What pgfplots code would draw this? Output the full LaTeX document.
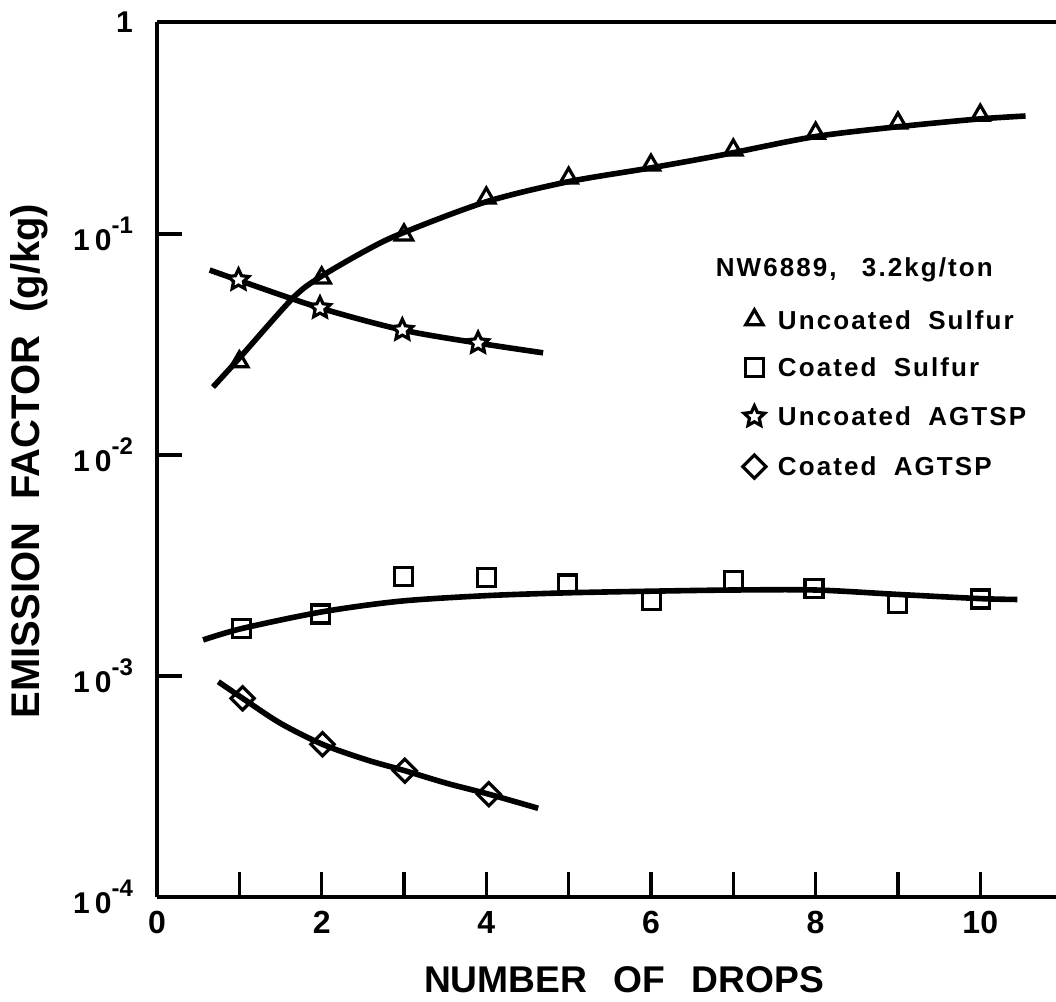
\documentclass[border=0pt]{standalone}
\usepackage{fontspec}
\setmainfont{Liberation Sans}
\newfontfamily\legfont[LetterSpace=8]{Liberation Sans}
\usepackage{pgfplots}
\pgfplotsset{compat=1.18}
\newcommand\sups[1]{\raisebox{0.55em}{\fontsize{6}{7}\selectfont #1}}
\pgfdeclareplotmark{ostar}{%
  \pgfpathmoveto{\pgfqpointpolar{90}{\pgfplotmarksize}}%
  \pgfpathlineto{\pgfqpointpolar{126}{0.48\pgfplotmarksize}}%
  \pgfpathlineto{\pgfqpointpolar{162}{\pgfplotmarksize}}%
  \pgfpathlineto{\pgfqpointpolar{198}{0.48\pgfplotmarksize}}%
  \pgfpathlineto{\pgfqpointpolar{234}{\pgfplotmarksize}}%
  \pgfpathlineto{\pgfqpointpolar{270}{0.48\pgfplotmarksize}}%
  \pgfpathlineto{\pgfqpointpolar{306}{\pgfplotmarksize}}%
  \pgfpathlineto{\pgfqpointpolar{342}{0.48\pgfplotmarksize}}%
  \pgfpathlineto{\pgfqpointpolar{18}{\pgfplotmarksize}}%
  \pgfpathlineto{\pgfqpointpolar{54}{0.48\pgfplotmarksize}}%
  \pgfpathclose
  \pgfusepathqfillstroke}
\begin{document}
\begin{tikzpicture}
\useasboundingbox (-39.25pt,-26.25pt) rectangle (224.75pt,224.25pt);
\begin{axis}[
  at={(0,0)}, anchor=south west,
  scale only axis, width=224.75pt, height=218.75pt,
  xmin=0, xmax=10.92, ymode=log, ymin=1e-4, ymax=0.9106,
  axis x line=box, axis y line=left,
  axis line style={-, line width=0.9pt},
  xtick pos=left, ytick pos=left,
  tick align=inside,
  xtick={0,1,...,10}, xticklabels={0,,2,,4,,6,,8,,10},
  ytick={1e-4,1e-3,1e-2,1e-1,0.9106},
  yticklabels={{1\,0\sups{-4}},{1\,0\sups{-3}},{1\,0\sups{-2}},{1\,0\sups{-1}},{1}},
  yminorticks=false, xminorticks=false,
  major tick length=6.25pt,
  tick style={line width=0.8pt, black},
  xticklabel style={font=\bfseries\fontsize{8}{9}\selectfont},
  yticklabel style={font=\bfseries\fontsize{7.5}{8}\selectfont, xshift=-2.5pt},
  xlabel={NUMBER\hspace{4pt} OF\hspace{4pt} DROPS},
  xlabel style={at={(axis description cs:0.5195,-0.0949)}, anchor=center, font=\bfseries\fontsize{9.3}{11}\selectfont},
  ylabel={EMISSION\hspace{3pt} FACTOR\hspace{3pt} (g/kg)},
  ylabel style={at={(axis description cs:-0.1424,0.4983)}, anchor=center, font=\bfseries\fontsize{10}{12}\selectfont},
  clip=false,
  legend image code/.code={\draw[#1] plot coordinates {(0pt,0pt)};},
  legend style={at={(rel axis cs:0.6507,0.672)}, anchor=north west, draw=none, fill=none,
    inner sep=0pt, row sep=7.3pt, column sep=3pt,
    font=\legfont\bfseries\fontsize{6.5}{7}\selectfont,
    nodes={inner sep=0pt, text height=4.6pt, text depth=0pt}},
  legend cell align=left,
]
% curves
\addplot[forget plot, line width=1.4pt, smooth] coordinates {
 (0.68,0.0203) (1.01,0.0277) (1.65,0.0513) (1.98,0.0638) (2.55,0.0847) (2.98,0.101)
 (3.99,0.1396) (4.98,0.172) (5.99,0.199) (6.84,0.227) (7.97,0.275) (8.97,0.305) (9.96,0.331) (10.55,0.342)};
\addplot[forget plot, line width=1.4pt, smooth] coordinates {
 (0.64,0.0687) (0.98,0.062) (1.98,0.0463) (2.98,0.0368) (3.9,0.0321) (4.69,0.029)};
\addplot[forget plot, line width=1.4pt, smooth] coordinates {
 (0.56,0.001456) (1.03,0.00164) (2.0,0.00195) (2.95,0.00218) (4.0,0.00231) (5.0,0.00238)
 (6.0,0.00242) (7.0,0.00245) (8.0,0.00245) (9.0,0.00234) (10.0,0.00224) (10.45,0.00222)};
\addplot[forget plot, line width=1.4pt, smooth] coordinates {
 (0.745,0.000942) (1.04,0.000793) (1.5,0.000611) (2.01,0.000491) (2.55,0.000417)
 (3.01,0.000373) (3.52,0.000327) (4.03,0.000292) (4.63,0.000252)};
% marks
\addplot[only marks, mark=triangle, mark size=2.5pt, mark options={fill=white, line width=0.8pt}] coordinates {
 (1,0.0264) (2,0.0633) (3,0.099) (4,0.1456) (5,0.179) (6,0.205) (7,0.240) (8,0.286) (9,0.318) (10,0.345)};
\addlegendentry{Uncoated\hspace{2pt} Sulfur}
\addplot[only marks, mark=square, mark size=2.25pt, mark options={fill=white, line width=0.8pt}] coordinates {
 (1.03,0.00164) (1.99,0.00191) (2.99,0.00283) (4.0,0.00280) (4.99,0.00261) (6.01,0.00219)
 (7.0,0.00270) (7.98,0.00249) (8.99,0.00212) (10.0,0.00223)};
\addlegendentry{Coated\hspace{2pt} Sulfur}
\addplot[only marks, mark=ostar, mark size=2.7pt, mark options={fill=white, line width=0.8pt}] coordinates {
 (0.99,0.062) (1.98,0.0463) (2.98,0.0368) (3.9,0.0321)};
\addlegendentry{Uncoated\hspace{2pt} AGTSP}
\addplot[only marks, mark=square, mark size=2.05pt, mark options={fill=white, line width=0.8pt, rotate=45}] coordinates {
 (1.04,0.000793) (2.01,0.000491) (3.01,0.000373) (4.03,0.000292)};
\addlegendentry{Coated\hspace{2pt} AGTSP}
\node[anchor=west, inner sep=0pt, font=\legfont\bfseries\fontsize{6.5}{7}\selectfont] at (rel axis cs:0.6207,0.7166) {NW6889,\hspace{4pt} 3.2kg/ton};
\end{axis}
\end{tikzpicture}
\end{document}
